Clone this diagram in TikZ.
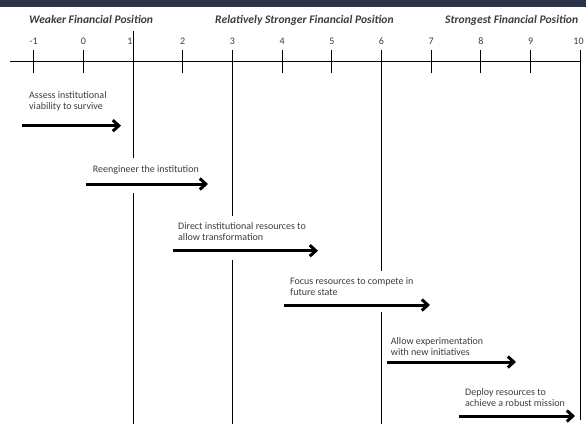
\documentclass[tikz,border=0pt]{standalone}
\usepackage{fontspec}
\setmainfont{Carlito}
\usetikzlibrary{arrows.meta}
\definecolor{banner}{HTML}{2B3349}
\definecolor{txtgray}{HTML}{3C3C3C}

\begin{document}
\begin{tikzpicture}[x=1pt,y=-1pt]

\tikzset{heading/.style = {font=\fontsize{11.6}{13}\selectfont\bfseries\itshape, text=txtgray, anchor=base west, inner sep=0pt},
         ticklabel/.style = {font=\fontsize{10}{12}\selectfont, text=txtgray, anchor=base, inner sep=0pt},
         steplabel/.style = {font=\fontsize{10}{11.7}\selectfont, text=txtgray, anchor=base west, align=left, inner sep=0pt},
         axisline/.style = {line width=.9pt, black},
         phase/.style = {line width=3pt, black, -{Straight Barb[length=6pt,width=11pt]}}}

\useasboundingbox (0,0) rectangle (586,424);
\fill[banner] (0,0) rectangle (586,7);

\node[heading] (weak)   at (29,23)  {Weaker Financial Position};
\node[heading] (middle) at (215,23) {Relatively Stronger Financial Position};
\node[heading] (strong) at (445,23) {Strongest Financial Position};

\coordinate (axisL) at (10,61.7);
\coordinate (axisR) at (580.3,61.7);
\draw[axisline] (axisL) -- (axisR);

\node[ticklabel] (n-1) at (33.6,44.5)  {-1};
\node[ticklabel] (n0)  at (83.3,44.5)  {0};
\node[ticklabel] (n1)  at (130,44.5)   {1};
\node[ticklabel] (n2)  at (182.7,44.5) {2};
\node[ticklabel] (n3)  at (232.4,44.5) {3};
\node[ticklabel] (n4)  at (282.1,44.5) {4};
\node[ticklabel] (n5)  at (331.8,44.5) {5};
\node[ticklabel] (n6)  at (381.5,44.5) {6};
\node[ticklabel] (n7)  at (431.2,44.5) {7};
\node[ticklabel] (n8)  at (480.9,44.5) {8};
\node[ticklabel] (n9)  at (530.6,44.5) {9};
\node[ticklabel] (n10) at (578.5,44.5) {10};

\draw[axisline] (33.6,50) -- (33.6,73);
\draw[axisline] (83.3,50) -- (83.3,73);
\draw[axisline] (182.7,50) -- (182.7,73);
\draw[axisline] (282.1,50) -- (282.1,73);
\draw[axisline] (331.8,50) -- (331.8,73);
\draw[axisline] (431.2,50) -- (431.2,73);
\draw[axisline] (480.9,50) -- (480.9,73);
\draw[axisline] (530.6,50) -- (530.6,73);

\draw[axisline] (133,31) -- (133,158);
\draw[axisline] (133,193) -- (133,424);
\draw[axisline] (232.4,50) -- (232.4,216);
\draw[axisline] (232.4,260) -- (232.4,424);
\draw[axisline] (381.5,50) -- (381.5,271);
\draw[axisline] (381.5,312) -- (381.5,424);
\draw[axisline] (580.3,50) -- (580.3,420);

\node[steplabel] (assess)   at (29,109.7)    {Assess institutional\\viability to survive};
\node[steplabel] (reeng)    at (92.7,172)    {Reengineer the institution};
\node[steplabel] (direct)   at (178,240.7)   {Direct institutional resources to\\allow transformation};
\node[steplabel] (focus)    at (290,295.7)   {Focus resources to compete in\\future state};
\node[steplabel] (allow)    at (390.7,355.7) {Allow experimentation\\with new initiatives};
\node[steplabel] (deploy)   at (465,406.7)   {Deploy resources to\\achieve a robust mission};

\coordinate (assessA) at (22,125.7);  \coordinate (assessB) at (121,125.7);
\coordinate (reengA)  at (86,184);    \coordinate (reengB)  at (208,184);
\coordinate (directA) at (173,250.7); \coordinate (directB) at (318,250.7);
\coordinate (focusA)  at (284,305);   \coordinate (focusB)  at (430,305);
\coordinate (allowA)  at (387,362);   \coordinate (allowB)  at (516,362);
\coordinate (deployA) at (459,416);   \coordinate (deployB) at (575,416);

\draw[phase] (assessA) -- (assessB);
\draw[phase] (reengA) -- (reengB);
\draw[phase] (directA) -- (directB);
\draw[phase] (focusA) -- (focusB);
\draw[phase] (allowA) -- (allowB);
\draw[phase] (deployA) -- (deployB);

\end{tikzpicture}
\end{document}
